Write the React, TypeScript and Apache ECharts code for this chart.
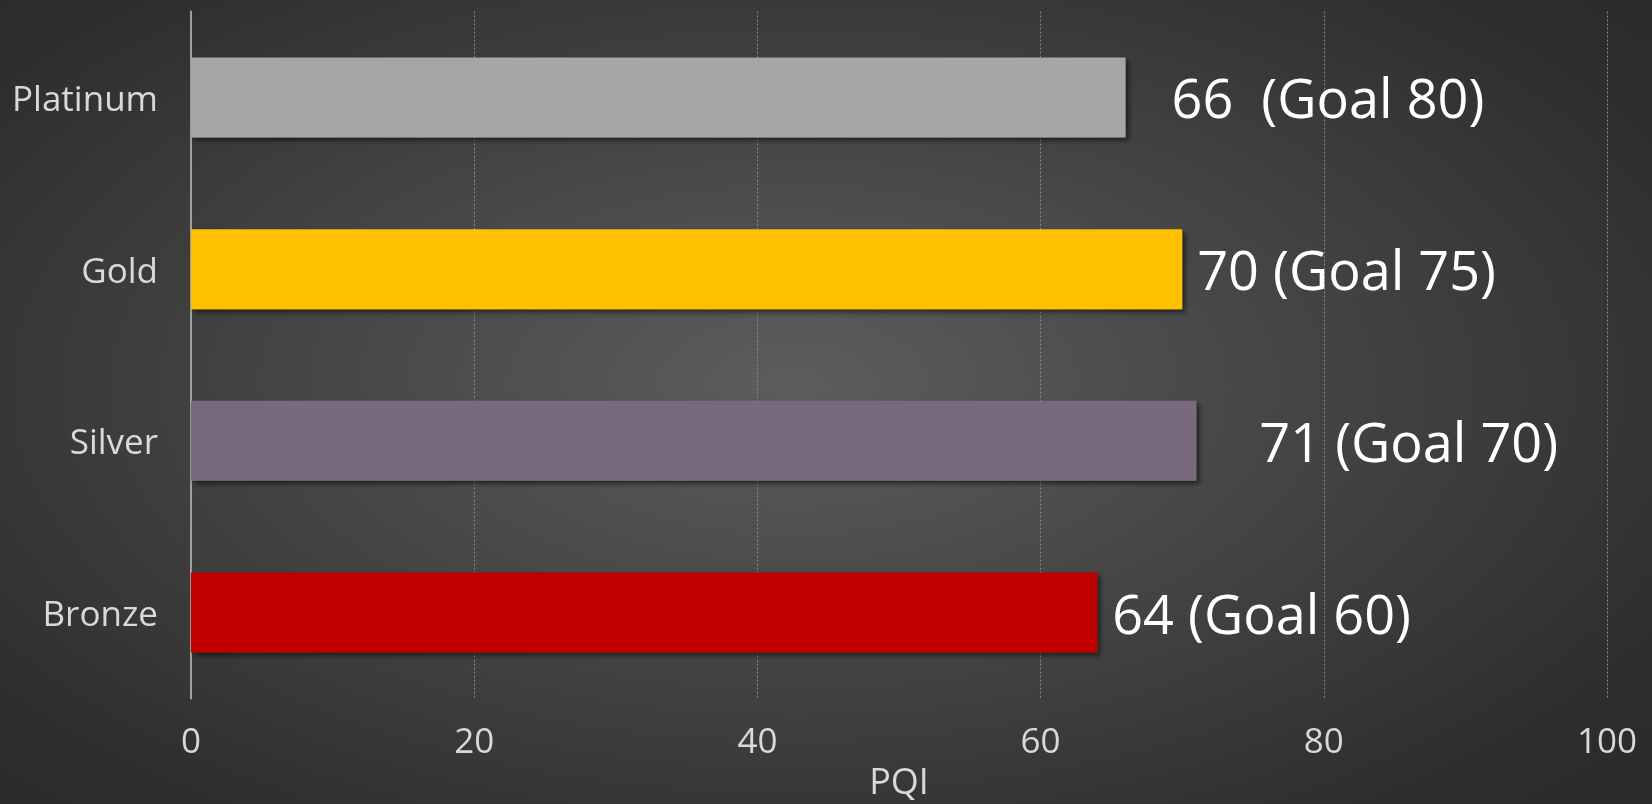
import React, { useEffect, useRef } from "react";
import * as echarts from "echarts";

const categories = ["Platinum", "Gold", "Silver", "Bronze"];
const pqiValues = [66, 70, 71, 64];
const goalValues = [80, 75, 70, 60];
const labelSeparators = ["  (", " (", " (", " ("];
const barColors = ["#a6a6a6", "#ffc000", "#786a7c", "#c00000"];
const labelGaps = [46, 15, 63, 15];
const xTicks = { min: 0, max: 100, interval: 20 };
const axisName = "PQI";

export default function App() {
  const ref = useRef<HTMLDivElement>(null);
  useEffect(() => {
    if (!ref.current) return;
    const chart = echarts.init(ref.current, undefined, { renderer: "svg" });
    const font = "'Open Sans', sans-serif";
    chart.setOption({
      animation: false,
      backgroundColor: "transparent",
      grid: { left: 191, right: 45, top: 11.6, bottom: 105.6, containLabel: false },
      xAxis: {
        type: "value",
        min: xTicks.min,
        max: xTicks.max,
        interval: xTicks.interval,
        name: axisName,
        nameLocation: "middle",
        nameGap: 64,
        nameTextStyle: { color: "#d9d9d9", fontSize: 36, fontFamily: font },
        axisLine: { show: false },
        axisTick: { show: false },
        axisLabel: { color: "#d9d9d9", fontSize: 35, fontFamily: font, margin: 24 },
        splitLine: {
          show: true,
          lineStyle: { color: "#8a8a8a", width: 1, type: [2, 2] },
        },
      },
      yAxis: {
        type: "category",
        data: categories,
        inverse: true,
        axisLine: { show: true, lineStyle: { color: "#a0a0a0", width: 2 } },
        axisTick: { show: false },
        axisLabel: { color: "#d9d9d9", fontSize: 35, fontFamily: font, margin: 33 },
        splitLine: { show: false },
      },
      series: [
        {
          type: "bar",
          barWidth: "46.6%",
          data: pqiValues.map((v, i) => ({
            value: v,
            itemStyle: {
              color: barColors[i],
              shadowColor: "rgba(0,0,0,0.55)",
              shadowBlur: 5,
              shadowOffsetX: 3,
              shadowOffsetY: 3,
            },
            label: {
              show: true,
              position: "right",
              distance: labelGaps[i],
              formatter: `${v}${labelSeparators[i]}Goal ${goalValues[i]})`,
              color: "#ffffff",
              fontSize: 54,
              fontFamily: font,
            },
          })),
        },
      ],
    });
    return () => chart.dispose();
  }, []);
  return (
    <div
      ref={ref}
      style={{
        position: "fixed",
        left: 0,
        top: 0,
        width: 1652,
        height: 804,
        background:
          "radial-gradient(ellipse 70% 75% at 48% 48%, #5d5d5d 0%, #474747 40%, #2e2e2e 85%, #2a2a2a 100%)",
      }}
    />
  );
}
